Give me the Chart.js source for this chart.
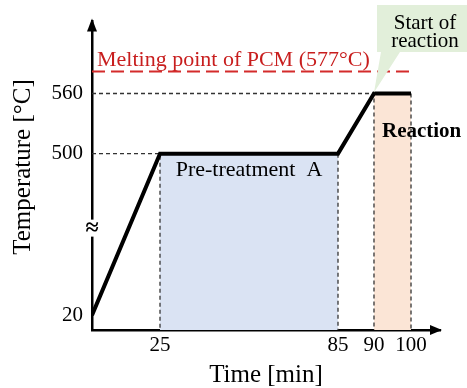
<!DOCTYPE html>
<html>
<head>
<meta charset="utf-8">
<script src="https://cdn.jsdelivr.net/npm/chart.js@4/dist/chart.umd.min.js"></script>
<style>
  html, body { margin: 0; padding: 0; background: #fff; }
  #wrap { width: 467px; height: 388px; }
</style>
</head>
<body>
<div id="wrap"><canvas id="c" width="467" height="388"></canvas></div>
<script>
// Heat-treatment temperature profile (schematic, broken axes)
const times = [0, 25, 85, 90, 100];          // min
const temps = [20, 500, 500, 560, 560];      // °C
const timeTicks = [25, 85, 90, 100];
const tempTicks = [20, 500, 560];
const meltingPoint = 577;                    // °C
const pretreatWindow = [25, 85];             // min
const reactionWindow = [90, 100];            // min

// Where given values sit along each axis (fraction of axis length);
// the axes are schematic, so spacing is set piecewise between anchors.
const axisAnchors = {
  x: [[0, 0], [25, 0.1954], [85, 0.7069], [90, 0.8103], [100, 0.9167], [110, 1]],
  y: [[0, 0], [20, 0.0479], [500, 0.5719], [560, 0.7668], [577, 0.838], [620, 1]]
};

class BrokenLinearScale extends Chart.LinearScale {
  _toFrac(v) {
    const a = axisAnchors[this.id];
    if (v <= a[0][0]) return a[0][1];
    for (let i = 1; i < a.length; i++) {
      if (v <= a[i][0]) {
        const [v0, f0] = a[i - 1], [v1, f1] = a[i];
        return f0 + (v - v0) / (v1 - v0) * (f1 - f0);
      }
    }
    return a[a.length - 1][1];
  }
  _fromFrac(f) {
    const a = axisAnchors[this.id];
    if (f <= a[0][1]) return a[0][0];
    for (let i = 1; i < a.length; i++) {
      if (f <= a[i][1]) {
        const [v0, f0] = a[i - 1], [v1, f1] = a[i];
        return v0 + (f - f0) / (f1 - f0) * (v1 - v0);
      }
    }
    return a[a.length - 1][0];
  }
  getPixelForValue(value) {
    if (value === null || value === undefined || isNaN(value)) return NaN;
    return this.getPixelForDecimal(this._toFrac(value));
  }
  getValueForPixel(pixel) {
    return this._fromFrac(this.getDecimalForPixel(pixel));
  }
}
BrokenLinearScale.id = 'brokenLinear';
BrokenLinearScale.defaults = Chart.LinearScale.defaults;
Chart.register(BrokenLinearScale);

const SERIF = '"Liberation Serif", "Times New Roman", serif';
const pts = (xs, ys) => xs.map((x, i) => ({ x, y: ys[i] }));

const [tStart, tHeat, tHold, tRamp, tEnd] = times;
const [Tstart, Thold, , Treact] = temps;

const guideStyle = {
  type: 'line', borderColor: '#333', borderWidth: 1.3, borderDash: [4, 3],
  pointRadius: 0, fill: false, tension: 0
};

const datasets = [
  { // temperature profile
    label: 'Temperature', data: pts(times, temps),
    borderColor: '#000', borderWidth: 4, pointRadius: 0, tension: 0,
    borderJoinStyle: 'miter', borderCapStyle: 'butt', fill: false, order: 0
  },
  Object.assign({ data: [{ x: tStart, y: Thold }, { x: tHeat, y: Thold }, { x: tHeat, y: 0 }], order: 1 }, guideStyle),
  Object.assign({ data: [{ x: tStart, y: Treact }, { x: tRamp, y: Treact }, { x: tRamp, y: 0 }], order: 1 }, guideStyle),
  Object.assign({ data: [{ x: tHold, y: Thold }, { x: tHold, y: 0 }], order: 1 }, guideStyle),
  Object.assign({ data: [{ x: tEnd, y: Treact }, { x: tEnd, y: 0 }], order: 1 }, guideStyle),
  { // melting point of PCM
    data: [{ x: tStart, y: meltingPoint }, { x: tEnd, y: meltingPoint }],
    borderColor: '#d42b2b', borderWidth: 2, borderDash: [13, 6], pointRadius: 0, fill: false, order: 1
  },
  { // pre-treatment window
    data: pretreatWindow.map(x => ({ x, y: Thold })),
    borderWidth: 0, borderColor: 'rgba(0,0,0,0)', backgroundColor: '#dae3f3',
    pointRadius: 0, fill: 'origin', order: 2
  },
  { // reaction window
    data: reactionWindow.map(x => ({ x, y: Treact })),
    borderWidth: 0, borderColor: 'rgba(0,0,0,0)', backgroundColor: '#fbe5d6',
    pointRadius: 0, fill: 'origin', order: 2
  }
];

const decor = {
  id: 'decor',
  afterDraw(chart) {
    const { ctx, chartArea: ca, scales: { x, y } } = chart;
    ctx.save();
    ctx.fillStyle = '#000';

    // axis arrowheads
    ctx.beginPath();
    ctx.moveTo(ca.left, ca.top - 3);
    ctx.lineTo(ca.left - 5, ca.top + 10);
    ctx.lineTo(ca.left + 5, ca.top + 10);
    ctx.closePath();
    ctx.fill();
    ctx.beginPath();
    ctx.moveTo(ca.right + 2, ca.bottom);
    ctx.lineTo(ca.right - 10, ca.bottom - 5);
    ctx.lineTo(ca.right - 10, ca.bottom + 5);
    ctx.closePath();
    ctx.fill();

    // axis break mark
    const by = y.getPixelForValue(Thold) + 75;
    ctx.fillStyle = '#fff';
    ctx.fillRect(ca.left - 7, by - 9, 14, 17);
    ctx.fillStyle = '#000';
    ctx.font = 'bold 24px ' + SERIF;
    ctx.textAlign = 'center';
    ctx.textBaseline = 'middle';
    ctx.fillText('\u2248', ca.left, by);

    // y axis title
    ctx.save();
    ctx.translate(23, 167);
    ctx.rotate(-Math.PI / 2);
    ctx.font = '25px ' + SERIF;
    ctx.fillText('Temperature [\u00b0C]', 0, 0);
    ctx.restore();

    // melting point label
    ctx.fillStyle = '#c81e1e';
    ctx.font = '22px ' + SERIF;
    ctx.textAlign = 'left';
    ctx.textBaseline = 'alphabetic';
    ctx.fillText('Melting point of PCM (577\u00b0C)', x.getPixelForValue(tStart) + 5, y.getPixelForValue(meltingPoint) - 6);

    // window labels
    ctx.fillStyle = '#000';
    ctx.textAlign = 'center';
    ctx.textBaseline = 'middle';
    ctx.font = '22px ' + SERIF;
    const px0 = x.getPixelForValue(pretreatWindow[0]), px1 = x.getPixelForValue(pretreatWindow[1]);
    ctx.fillText('Pre-treatment  A', (px0 + px1) / 2, y.getPixelForValue(Thold) + 17);
    ctx.textAlign = 'left';
    ctx.font = 'bold 21px ' + SERIF;
    ctx.fillText('Reaction', x.getPixelForValue(reactionWindow[0]) + 8, y.getPixelForValue(Treact) + 38);

    // callout: start of reaction
    const tipX = x.getPixelForValue(tRamp), tipY = y.getPixelForValue(Treact) - 1;
    ctx.fillStyle = '#e2efda';
    ctx.beginPath();
    ctx.moveTo(tipX + 3, 5);
    ctx.lineTo(tipX + 93, 5);
    ctx.lineTo(tipX + 93, 52);
    ctx.lineTo(tipX + 26, 52);
    ctx.lineTo(tipX, tipY);
    ctx.lineTo(tipX + 7, 52);
    ctx.lineTo(tipX + 3, 52);
    ctx.closePath();
    ctx.fill();
    ctx.fillStyle = '#000';
    ctx.font = '21px ' + SERIF;
    ctx.textAlign = 'center';
    ctx.textBaseline = 'alphabetic';
    ctx.fillText('Start of', tipX + 51, 29);
    ctx.fillText('reaction', tipX + 51, 47);
    ctx.restore();
  }
};

new Chart(document.getElementById('c'), {
  type: 'line',
  data: { datasets },
  plugins: [decor],
  options: {
    responsive: false,
    animation: false,
    devicePixelRatio: 1,
    layout: { padding: { left: 0, right: 27, top: 17, bottom: 0 } },
    plugins: { legend: { display: false }, tooltip: { enabled: false } },
    scales: {
      x: {
        type: 'brokenLinear', min: 0, max: 110,
        afterFit: s => { s.height = 58; },
        afterBuildTicks: s => { s.ticks = timeTicks.map(v => ({ value: v })); },
        grid: { display: false, drawTicks: false },
        border: { display: true, color: '#000', width: 2.5 },
        ticks: { color: '#000', font: { family: SERIF, size: 21 }, padding: 3, maxRotation: 0, autoSkip: false },
        title: { display: true, text: 'Time [min]', color: '#000', font: { family: SERIF, size: 25 }, padding: { top: 0, bottom: -2 } }
      },
      y: {
        type: 'brokenLinear', min: 0, max: 620,
        afterFit: s => { s.width = 92; },
        afterBuildTicks: s => { s.ticks = tempTicks.map(v => ({ value: v })); },
        grid: { display: false, drawTicks: false },
        border: { display: true, color: '#000', width: 2.5 },
        ticks: { color: '#000', font: { family: SERIF, size: 21 }, padding: 9 }
      }
    }
  }
});
</script>
</body>
</html>
